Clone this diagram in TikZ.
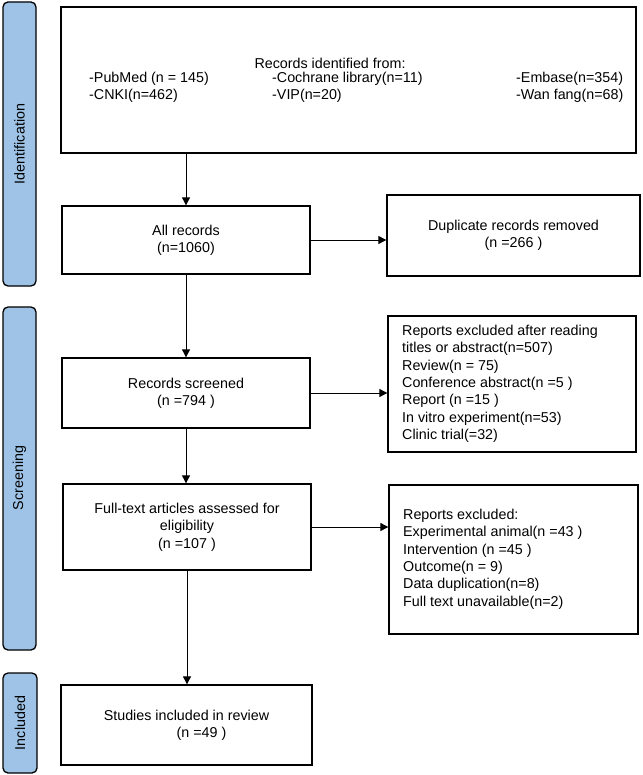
\documentclass[tikz,border=0pt]{standalone}
\usepackage{fontspec}
\setmainfont{Liberation Sans}
\usetikzlibrary{arrows.meta}
\begin{document}
\begin{tikzpicture}[x=1pt,y=-1pt,
  box/.style={draw,line width=1.3pt,rectangle},
  bar/.style={draw,line width=1.3pt,fill=barblue,rounded corners=5pt},
  lab/.style={font=\fontsize{14.3}{17.3}\selectfont,align=center,inner sep=0},
  llab/.style={font=\fontsize{14.3}{17.3}\selectfont,align=left,inner sep=0,anchor=north west},
  barlab/.style={font=\fontsize{14.3}{16}\selectfont,rotate=90,inner sep=0},
  arr/.style={-{Triangle[length=8pt,width=8pt]},line width=0.9pt}]
\definecolor{barblue}{RGB}{158,195,230}
\useasboundingbox (0,0) rectangle (642,775);
% side bars
\draw[bar] (3,2) rectangle (36,286);
\node[barlab] (bi) at (19.5,144) {Identification};
\draw[bar] (3,307) rectangle (36,650);
\node[barlab] (bs) at (19.5,478) {Screening};
\draw[bar] (3,673) rectangle (37,773);
\node[barlab] (bc) at (20,723) {Included};
% boxes
\node[box,minimum width=575pt,minimum height=146pt] (top) at (348.5,80) {};
\node[lab] (t0) at (330,63) {Records identified from:};
\node[llab] (t1) at (89,72) {-PubMed (n = 145)\\-CNKI(n=462)};
\node[llab] (t2) at (272,72) {-Cochrane library(n=11)\\-VIP(n=20)};
\node[llab] (t3) at (516,72) {-Embase(n=354)\\-Wan fang(n=68)};
\node[box,minimum width=248pt,minimum height=68pt,lab] (all) at (186,240) {All records\\(n=1060)};
\node[box,minimum width=253pt,minimum height=81pt,lab] (dup) at (513.5,235.5) {Duplicate records removed\\(n =266 )};
\node[box,minimum width=248pt,minimum height=70pt,lab] (scr) at (186,393) {Records screened\\(n =794 )};
\node[box,minimum width=248pt,minimum height=136pt] (ex1) at (512,384) {};
\node[llab] (ex1t) at (402,325) {Reports excluded after reading\\titles or abstract(n=507)\\Review(n = 75)\\Conference abstract(n =5 )\\Report (n =15 )\\In vitro experiment(n=53)\\Clinic trial(=32)};
\node[box,minimum width=248pt,minimum height=86pt,lab] (ft) at (187,527) {Full-text articles assessed for\\eligibility\\(n =107 )};
\node[box,minimum width=249pt,minimum height=149pt] (ex2) at (513.5,559.5) {};
\node[llab] (ex2t) at (403,509) {Reports excluded:\\Experimental animal(n =43 )\\Intervention (n =45 )\\Outcome(n = 9)\\Data duplication(n=8)\\Full text unavailable(n=2)};
\node[box,minimum width=251pt,minimum height=80pt,lab] (inc) at (186.5,725) {Studies included in review\\\hspace*{30pt}(n =49 )};
% arrows
\draw[arr] (top.south -| all.north) -- (all.north);
\draw[arr] (all) -- (dup.west |- all);
\draw[arr] (all.south) -- (scr.north -| all.south);
\draw[arr] (scr.south) -- (ft.north -| scr.south);
\draw[arr] (scr.east) -- (ex1.west |- scr.east);
\draw[arr] (ft.east) -- (ex2.west |- ft.east);
\draw[arr] (ft.south) -- (inc.north -| ft.south);
\end{tikzpicture}
\end{document}
